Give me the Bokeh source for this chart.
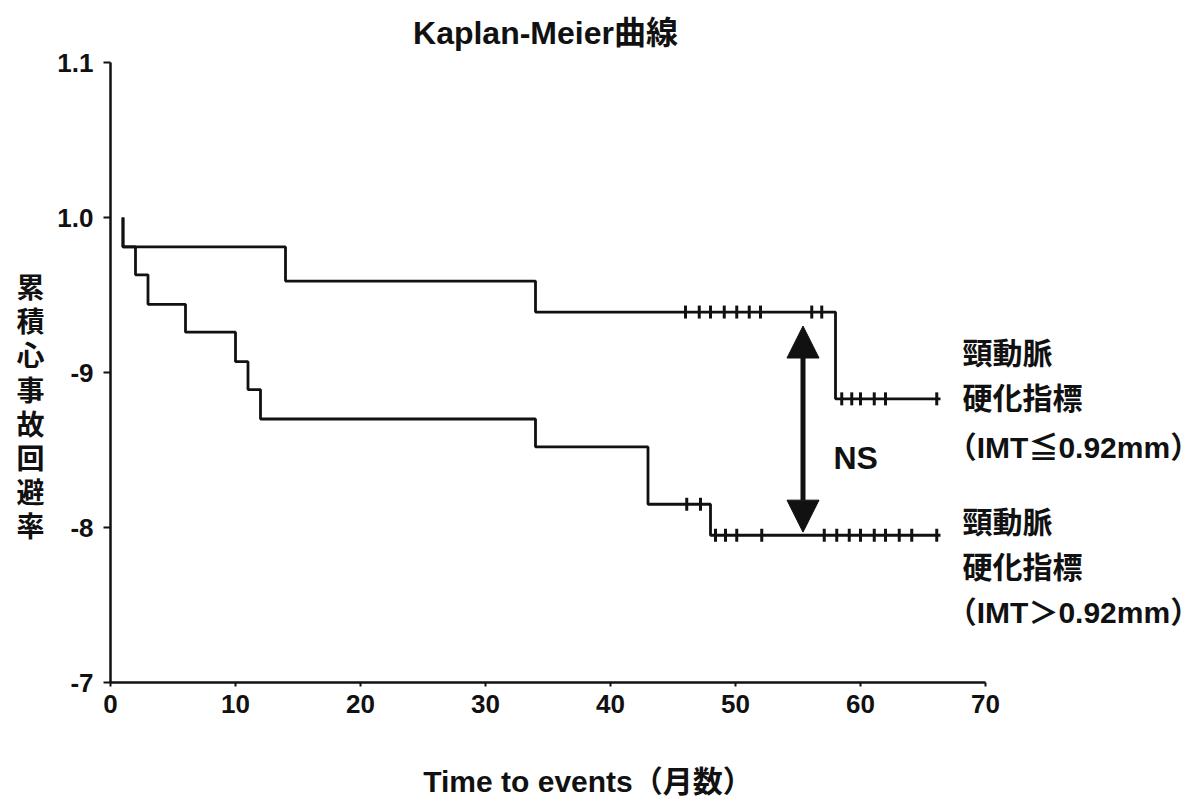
import numpy as np
from bokeh.plotting import figure
from bokeh.models import FixedTicker, Label, Arrow, NormalHead, Range1d
from bokeh.embed import file_html
from bokeh.resources import INLINE

# ---------------- data ----------------
# IMT <= 0.92 mm group (upper curve)
low_imt_time = [1, 1, 14, 34, 58, 66.4]
low_imt_surv = [1.0, 0.981, 0.959, 0.939, 0.883, 0.883]
low_cens_time = [46.0, 47.1, 48.0, 49.1, 50.1, 51.1, 52.0, 56.1, 56.9,
                 58.5, 59.3, 60.0, 61.1, 62.0, 66.1]
low_cens_surv = [0.939, 0.939, 0.939, 0.939, 0.939, 0.939, 0.939, 0.939, 0.939,
                 0.883, 0.883, 0.883, 0.883, 0.883, 0.883]

# IMT > 0.92 mm group (lower curve)
high_imt_time = [1, 1, 2, 3, 6, 10, 11, 12, 34, 43, 48, 66.4]
high_imt_surv = [1.0, 0.981, 0.963, 0.944, 0.926, 0.907, 0.889, 0.870,
                 0.852, 0.815, 0.795, 0.795]
high_cens_time = [46.1, 47.2, 48.4, 49.2, 50.1, 52.1, 57.1, 58.1, 59.1, 60.0,
                  61.1, 62.0, 63.1, 64.1, 66.1]
high_cens_surv = [0.815, 0.815, 0.795, 0.795, 0.795, 0.795, 0.795, 0.795,
                  0.795, 0.795, 0.795, 0.795, 0.795, 0.795, 0.795]

x_ticks = [0, 10, 20, 30, 40, 50, 60, 70]
y_ticks = [0.7, 0.8, 0.9, 1.0, 1.1]
y_tick_labels = ["-7", "-8", "-9", "1.0", "1.1"]

ns_arrow_time = 55.4
ns_arrow_bottom = 0.797
ns_arrow_top = 0.930

title_text = "Kaplan-Meier曲線"
x_title = "Time to events（月数）"
y_title = "累積心事故回避率"
group_low = ["頸動脈", "硬化指標", "（IMT≦0.92mm）"]
group_high = ["頸動脈", "硬化指標", "（IMT＞0.92mm）"]

# ---------------- figure ----------------
FONT = "Liberation Sans, Noto Sans CJK JP"
INK = "#111111"

W, H = 1203, 807
X0_PX, PX_PER_MONTH = 110, 12.5          # where month 0 sits, scale
Y1_PX, PX_PER_UNIT = 217, 1550           # where 1.0 sits, scale

x_lo = -X0_PX / PX_PER_MONTH
x_hi = (W - X0_PX) / PX_PER_MONTH
y_hi = 1.0 + Y1_PX / PX_PER_UNIT
y_lo = 1.0 - (H - Y1_PX) / PX_PER_UNIT

p = figure(width=W, height=H,
           x_range=Range1d(x_lo, x_hi), y_range=Range1d(y_lo, y_hi),
           output_backend="svg", toolbar_location=None,
           min_border_left=0, min_border_right=0,
           min_border_top=0, min_border_bottom=0)
p.outline_line_color = None
p.grid.visible = False
p.background_fill_color = "white"
p.border_fill_color = "white"

p.xaxis.ticker = FixedTicker(ticks=x_ticks)
p.yaxis.ticker = FixedTicker(ticks=y_ticks)
p.yaxis.major_label_overrides = dict(zip(y_ticks, y_tick_labels))
p.xaxis.fixed_location = y_ticks[0]
p.yaxis.fixed_location = x_ticks[0]
p.xaxis.bounds = (x_ticks[0], x_ticks[-1])
p.yaxis.bounds = (y_ticks[0], y_ticks[-1])
for ax in (p.xaxis, p.yaxis):
    ax.axis_line_width = 2.5
    ax.axis_line_color = INK
    ax.major_tick_line_color = INK
    ax.major_tick_line_width = 2
    ax.minor_tick_line_color = None
    ax.major_label_text_font = FONT
    ax.major_label_text_font_style = "bold"
    ax.major_label_text_font_size = "26px"
    ax.major_label_text_color = INK
p.xaxis.major_tick_in = 0
p.xaxis.major_tick_out = 4
p.xaxis.major_label_standoff = 8
p.yaxis.major_tick_in = 0
p.yaxis.major_tick_out = 7
p.yaxis.major_label_standoff = 10

# survival curves
p.step(low_imt_time, low_imt_surv, mode="after", line_width=2.8, line_color=INK)
p.step(high_imt_time, high_imt_surv, mode="after", line_width=2.8, line_color=INK)

# censor marks
p.scatter(low_cens_time, low_cens_surv, marker="dash", angle=np.pi / 2,
          size=13, line_width=3, line_color=INK)
p.scatter(high_cens_time, high_cens_surv, marker="dash", angle=np.pi / 2,
          size=13, line_width=3, line_color=INK)

# NS double arrow
p.add_layout(Arrow(
    start=NormalHead(size=32, fill_color=INK, line_color=INK),
    end=NormalHead(size=32, fill_color=INK, line_color=INK),
    x_start=ns_arrow_time, y_start=ns_arrow_bottom,
    x_end=ns_arrow_time, y_end=ns_arrow_top,
    line_width=5, line_color=INK))

def add_text(x, y, text, size, align="left", baseline="middle", lh=1.2):
    p.add_layout(Label(x=x, y=y, text=text, text_font=FONT,
                       text_font_style="bold", text_font_size=size,
                       text_color=INK, text_align=align,
                       text_baseline=baseline, text_line_height=lh))

add_text(57.84, 0.845, "NS", "32px")
add_text(34.8, 1.119, title_text, "32px", align="center")
add_text(38.2, 0.6361, x_title, "30px", align="center")
add_text(-6.4, 0.877, "\n".join(y_title), "28px", align="center", lh=1.1)

low_y = [0.9123, 0.8832, 0.8516]
high_y = [0.8032, 0.7742, 0.7452]
for txt, yy in zip(group_low, low_y):
    add_text(66.9 if txt.startswith("（") else 68.16, yy, txt, "30px")
for txt, yy in zip(group_high, high_y):
    add_text(66.9 if txt.startswith("（") else 68.16, yy, txt, "30px")

open("out.html", "w").write(file_html(p, INLINE))
